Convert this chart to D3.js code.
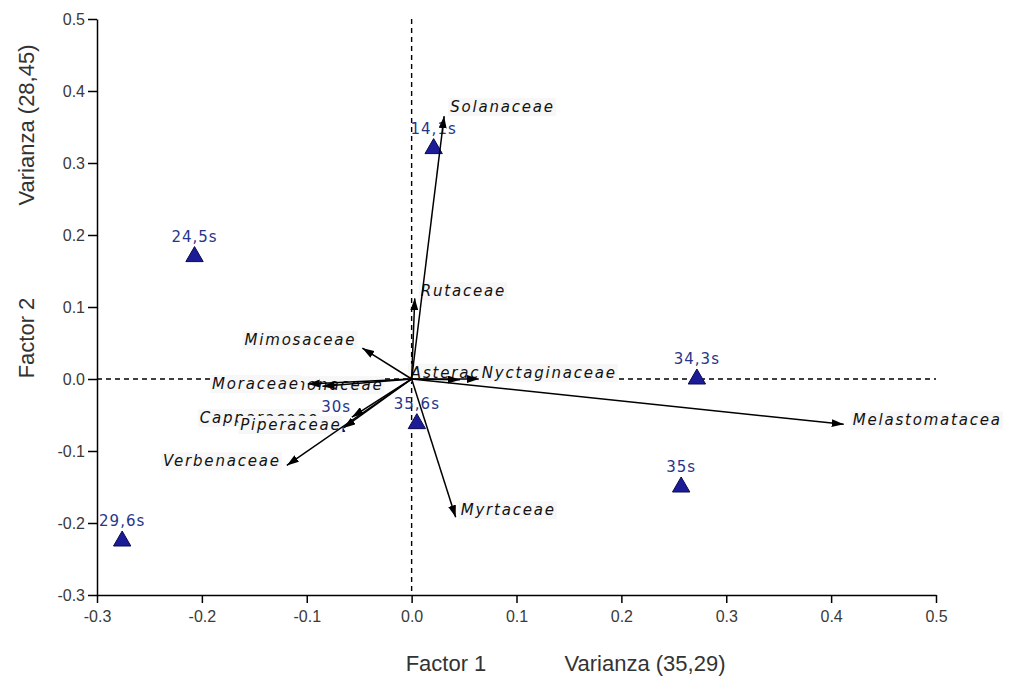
<!DOCTYPE html>
<html>
<head>
<meta charset="utf-8">
<script src="https://cdn.jsdelivr.net/npm/d3@7"></script>
<style>
  body { margin: 0; background: #fff; }
  svg { display: block; }
</style>
</head>
<body>
<div id="chart"></div>
<script>
// sample scores (triangles)
var sampleNames = ['14,1s', '24,5s', '34,3s', '35s', '29,6s', '35,6s', '30s'];
var sampleF1 = [0.021, -0.207, 0.272, 0.257, -0.276, 0.005, -0.072];
var sampleF2 = [0.32, 0.17, 0.0, -0.15, -0.225, -0.062, -0.066];

// family loadings (arrows)
var familyNames = ['Annonaceae', 'Asteraceae', 'Capparaceae', 'Solanaceae', 'Rutaceae', 'Mimosaceae',
  'Moraceae', 'Piperaceae', 'Verbenaceae', 'Myrtaceae', 'Melastomatacea', 'Nyctaginaceae'];
var familyF1 = [-0.085, 0.046, -0.057, 0.031, 0.003, -0.047, -0.099, -0.065, -0.119, 0.042, 0.412, 0.064];
var familyF2 = [-0.01, -0.001, -0.053, 0.365, 0.112, 0.043, -0.007, -0.068, -0.12, -0.192, -0.063, 0.0];

var xTicks = [-0.3, -0.2, -0.1, 0.0, 0.1, 0.2, 0.3, 0.4, 0.5];
var yTicks = [-0.3, -0.2, -0.1, 0.0, 0.1, 0.2, 0.3, 0.4, 0.5];

var width = 1010, height = 680;
var svg = d3.select('#chart').append('svg')
  .attr('width', width)
  .attr('height', height);

var x = d3.scaleLinear().domain([-0.3, 0.5]).range([97, 936]);
var y = d3.scaleLinear().domain([-0.3, 0.5]).range([595, 19]);

var defs = svg.append('defs');
defs.append('marker')
  .attr('id', 'head')
  .attr('markerUnits', 'userSpaceOnUse')
  .attr('viewBox', '0 0 12 8')
  .attr('refX', 12).attr('refY', 4)
  .attr('markerWidth', 12).attr('markerHeight', 8)
  .attr('orient', 'auto')
  .append('path')
  .attr('d', 'M0,0 L12,4 L0,8 Z')
  .attr('fill', '#000');

// dashed zero lines
svg.append('line')
  .attr('x1', x(-0.3)).attr('x2', x(0.5))
  .attr('y1', y(0)).attr('y2', y(0))
  .attr('stroke', '#000').attr('stroke-width', 1.4)
  .attr('stroke-dasharray', '5,4');
svg.append('line')
  .attr('x1', x(0)).attr('x2', x(0))
  .attr('y1', y(0.5)).attr('y2', y(-0.3))
  .attr('stroke', '#000').attr('stroke-width', 1.4)
  .attr('stroke-dasharray', '5,4');

// axes
var fmt = function(d) { return d.toFixed(1); };
var xAxis = svg.append('g')
  .attr('transform', 'translate(0,' + y(-0.3) + ')')
  .call(d3.axisBottom(x).tickValues(xTicks).tickFormat(fmt).tickSize(8).tickSizeOuter(0).tickPadding(8));
var yAxis = svg.append('g')
  .attr('transform', 'translate(' + x(-0.3) + ',0)')
  .call(d3.axisLeft(y).tickValues(yTicks).tickFormat(fmt).tickSize(9).tickSizeOuter(0).tickPadding(3));
[xAxis, yAxis].forEach(function(a) {
  a.selectAll('path, line').attr('stroke', '#000').attr('stroke-width', 1.5);
  a.selectAll('text')
    .attr('fill', '#3a3a3a')
    .style('font-family', '"Liberation Sans", Arial, sans-serif')
    .style('font-size', '16px');
});

// axis titles
var titleFont = '"Liberation Sans", Arial, sans-serif';
svg.append('text').attr('x', 446).attr('y', 671).attr('text-anchor', 'middle')
  .style('font-family', titleFont).style('font-size', '22px').attr('fill', '#333')
  .text('Factor 1');
svg.append('text').attr('x', 645).attr('y', 671).attr('text-anchor', 'middle')
  .style('font-family', titleFont).style('font-size', '22px').attr('fill', '#333')
  .text('Varianza (35,29)');
svg.append('text').attr('transform', 'translate(34,338) rotate(-90)').attr('text-anchor', 'middle')
  .style('font-family', titleFont).style('font-size', '22px').attr('fill', '#333')
  .text('Factor 2');
svg.append('text').attr('transform', 'translate(34,125) rotate(-90)').attr('text-anchor', 'middle')
  .style('font-family', titleFont).style('font-size', '22px').attr('fill', '#333')
  .text('Varianza (28,45)');

// sample triangles
var samples = sampleNames.map(function(n, i) { return { name: n, f1: sampleF1[i], f2: sampleF2[i] }; });
var tri = d3.symbol().type(d3.symbolTriangle).size(130);
svg.selectAll('.pt')
  .data(samples)
  .enter().append('path')
  .attr('class', 'pt')
  .attr('d', tri)
  .attr('transform', function(d) { return 'translate(' + x(d.f1) + ',' + y(d.f2) + ')'; })
  .attr('fill', '#1c1c96')
  .attr('stroke', '#0a0a50')
  .attr('stroke-width', 1);

svg.selectAll('.ptlabel')
  .data(samples)
  .enter().append('text')
  .attr('class', 'ptlabel')
  .attr('x', function(d) { return x(d.f1); })
  .attr('y', function(d) { return y(d.f2) - 15; })
  .attr('text-anchor', 'middle')
  .attr('fill', '#27358a')
  .style('font-family', '"DejaVu Sans", Verdana, sans-serif')
  .style('font-size', '15px')
  .style('letter-spacing', '1px')
  .text(function(d) { return d.name; });

// family labels, each over a light box
var families = familyNames.map(function(n, i) { return { name: n, f1: familyF1[i], f2: familyF2[i] }; });
var labelPlace = {
  'Annonaceae': { dx: 61, dy: 3, anchor: 'end' },
  'Asteraceae': { dx: -49, dy: -3, anchor: 'start' },
  'Capparaceae': { dx: -152, dy: 5, anchor: 'start' },
  'Solanaceae': { dx: 6, dy: -5, anchor: 'start' },
  'Rutaceae': { dx: 6, dy: -3, anchor: 'start' },
  'Mimosaceae': { dx: -6, dy: -4, anchor: 'end' },
  'Moraceae': { dx: -8, dy: 4, anchor: 'end' },
  'Piperaceae': { dx: -2, dy: 1, anchor: 'end' },
  'Verbenaceae': { dx: -6, dy: 0, anchor: 'end' },
  'Myrtaceae': { dx: 5, dy: -3, anchor: 'start' },
  'Melastomatacea': { dx: 9, dy: 0, anchor: 'start' },
  'Nyctaginaceae': { dx: 3, dy: -2, anchor: 'start' }
};
var labels = svg.selectAll('.flabel')
  .data(families)
  .enter().append('g')
  .attr('class', 'flabel');
labels.each(function(d) {
  var p = labelPlace[d.name];
  var g = d3.select(this);
  var rect = g.append('rect').attr('fill', '#f7f7f7');
  var t = g.append('text')
    .attr('x', x(d.f1) + p.dx)
    .attr('y', y(d.f2) + p.dy + 1)
    .attr('text-anchor', p.anchor)
    .attr('fill', '#111')
    .style('font-family', '"DejaVu Sans", Verdana, sans-serif')
    .style('font-style', 'italic')
    .style('font-size', '15px')
    .style('letter-spacing', '1.8px')
    .text(d.name);
  var b = t.node().getBBox();
  rect.attr('x', b.x - 2).attr('y', b.y).attr('width', b.width + 3).attr('height', b.height);
});

// loading arrows
svg.selectAll('.arrow')
  .data(families)
  .enter().append('line')
  .attr('class', 'arrow')
  .attr('x1', x(0)).attr('y1', y(0))
  .attr('x2', function(d) { return x(d.f1); })
  .attr('y2', function(d) { return y(d.f2); })
  .attr('stroke', '#000')
  .attr('stroke-width', 1.5)
  .attr('marker-end', 'url(#head)');
</script>
</body>
</html>
